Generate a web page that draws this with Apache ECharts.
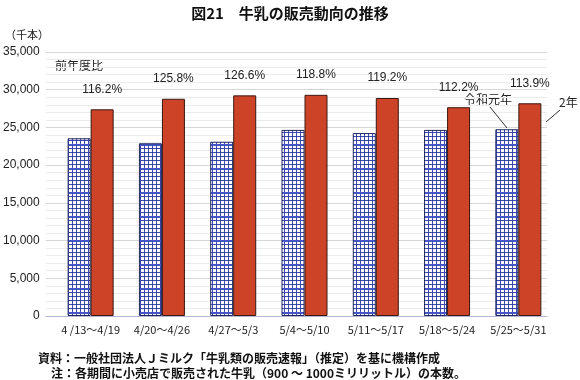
<!DOCTYPE html>
<html>
<head>
<meta charset="utf-8">
<script src="https://cdn.jsdelivr.net/npm/echarts@6/dist/echarts.min.js"></script>
<style>html,body{margin:0;padding:0;background:#fff;}#c{width:580px;height:380px;}</style>
</head>
<body>
<div id="c"></div>
<script>
const categories = ['4 /13～4/19', '4/20～4/26', '4/27～5/3', '5/4～5/10', '5/11～5/17', '5/18～5/24', '5/25～5/31'];
const reiwa1 = [23560, 22900, 23100, 24670, 24250, 24670, 24760];
const year2 = [27400, 28800, 29250, 29320, 28900, 27680, 28200];
const ratios = ['116.2%', '125.8%', '126.6%', '118.8%', '119.2%', '112.2%', '113.9%'];
const seriesNames = ['令和元年', '2年'];

const JP = '"Noto Sans CJK JP", "Noto Sans", sans-serif';
const LAT = '"Liberation Sans", Arial, sans-serif';

function makePattern() {
  const cv = document.createElement('canvas');
  cv.width = 4; cv.height = 24;
  const ctx = cv.getContext('2d');
  ctx.fillStyle = '#ffffff';
  ctx.fillRect(0, 0, 4, 24);
  ctx.fillStyle = '#3a46aa';
  for (let y = 0; y < 24; y += 4) ctx.fillRect(0, y, 4, 1);
  ctx.fillRect(0, 0, 1, 24);
  ctx.fillStyle = '#4656c8';
  ctx.fillRect(0, 0, 4, 2);
  return cv;
}

const chart = echarts.init(document.getElementById('c'), null, {renderer: 'canvas'});
chart.setOption({
  animation: false,
  backgroundColor: '#ffffff',
  title: {
    text: '図21　牛乳の販売動向の推移',
    left: 'center',
    top: 1,
    textStyle: {fontFamily: JP, fontSize: 15, fontWeight: 'bold', color: '#111'}
  },
  grid: [
    {left: 43, right: 33, top: 52, bottom: 64, containLabel: false},
    {left: 55, right: 26, top: 52, bottom: 64, containLabel: false}
  ],
  xAxis: [
    {type: 'value', gridIndex: 0, min: 0, max: 1, axisLabel: {show: false}, axisTick: {show: false},
     splitLine: {show: false}, axisLine: {show: true, lineStyle: {color: '#b4b8d2', width: 1}}},
    {type: 'category', gridIndex: 1, data: categories, axisLine: {show: false}, axisTick: {show: false},
     axisLabel: {fontFamily: JP, fontSize: 11, color: '#222', margin: 8, interval: 0}}
  ],
  yAxis: [
    {type: 'value', gridIndex: 0, min: 0, max: 35000, interval: 5000,
     axisLine: {show: false}, axisTick: {show: false},
     axisLabel: {fontFamily: LAT, fontSize: 12, color: '#222', margin: 6,
       formatter: v => v.toLocaleString('en-US')},
     splitLine: {show: true, lineStyle: {color: '#d6d6d6', width: 1}},
     minorTick: {show: false, splitNumber: 5},
     minorSplitLine: {show: true, lineStyle: {color: '#ececec', width: 1}}},
    {type: 'value', gridIndex: 1, min: 0, max: 35000, show: false, splitLine: {show: false}}
  ],
  series: [
    {
      name: seriesNames[0], type: 'bar', xAxisIndex: 1, yAxisIndex: 1,
      data: reiwa1, barWidth: 23, barGap: '0%',
      itemStyle: {color: {image: makePattern(), repeat: 'repeat'}, borderColor: '#1e2660', borderWidth: 1}
    },
    {
      name: seriesNames[1], type: 'bar', xAxisIndex: 1, yAxisIndex: 1,
      data: year2, barWidth: 23, barGap: '0%',
      itemStyle: {color: '#cd4328', borderColor: '#3a1810', borderWidth: 1},
      label: {show: true, position: 'top', distance: 14, fontFamily: LAT, fontSize: 12, color: '#222',
        formatter: p => ratios[p.dataIndex]}
    }
  ],
  graphic: [
    {type: 'text', left: 5, top: 29, style: {text: '（千本）', font: '11px ' + JP, fill: '#222'}},
    {type: 'text', left: 55, top: 59, style: {text: '前年度比', font: '12px ' + JP, fill: '#222'}},
    {type: 'text', left: 464, top: 93, style: {text: seriesNames[0], font: '12px ' + JP, fill: '#222'}},
    {type: 'text', left: 559, top: 96, style: {text: seriesNames[1], font: '12px ' + JP, fill: '#222'}},
    {type: 'line', shape: {x1: 490, y1: 107, x2: 507, y2: 128}, style: {stroke: '#333', lineWidth: 1}, z: 100},
    {type: 'line', shape: {x1: 560, y1: 110, x2: 546, y2: 122}, style: {stroke: '#333', lineWidth: 1}, z: 100},
    {type: 'text', left: 38, top: 352, style: {text: '資料：一般社団法人Ｊミルク「牛乳類の販売速報」（推定）を基に機構作成', font: 'bold 12px ' + JP, fill: '#111'}},
    {type: 'text', left: 51, top: 367, style: {text: '注：各期間に小売店で販売された牛乳（900 ～ 1000ミリリットル）の本数。', font: 'bold 12px ' + JP, fill: '#111'}}
  ]
});
</script>
</body>
</html>
